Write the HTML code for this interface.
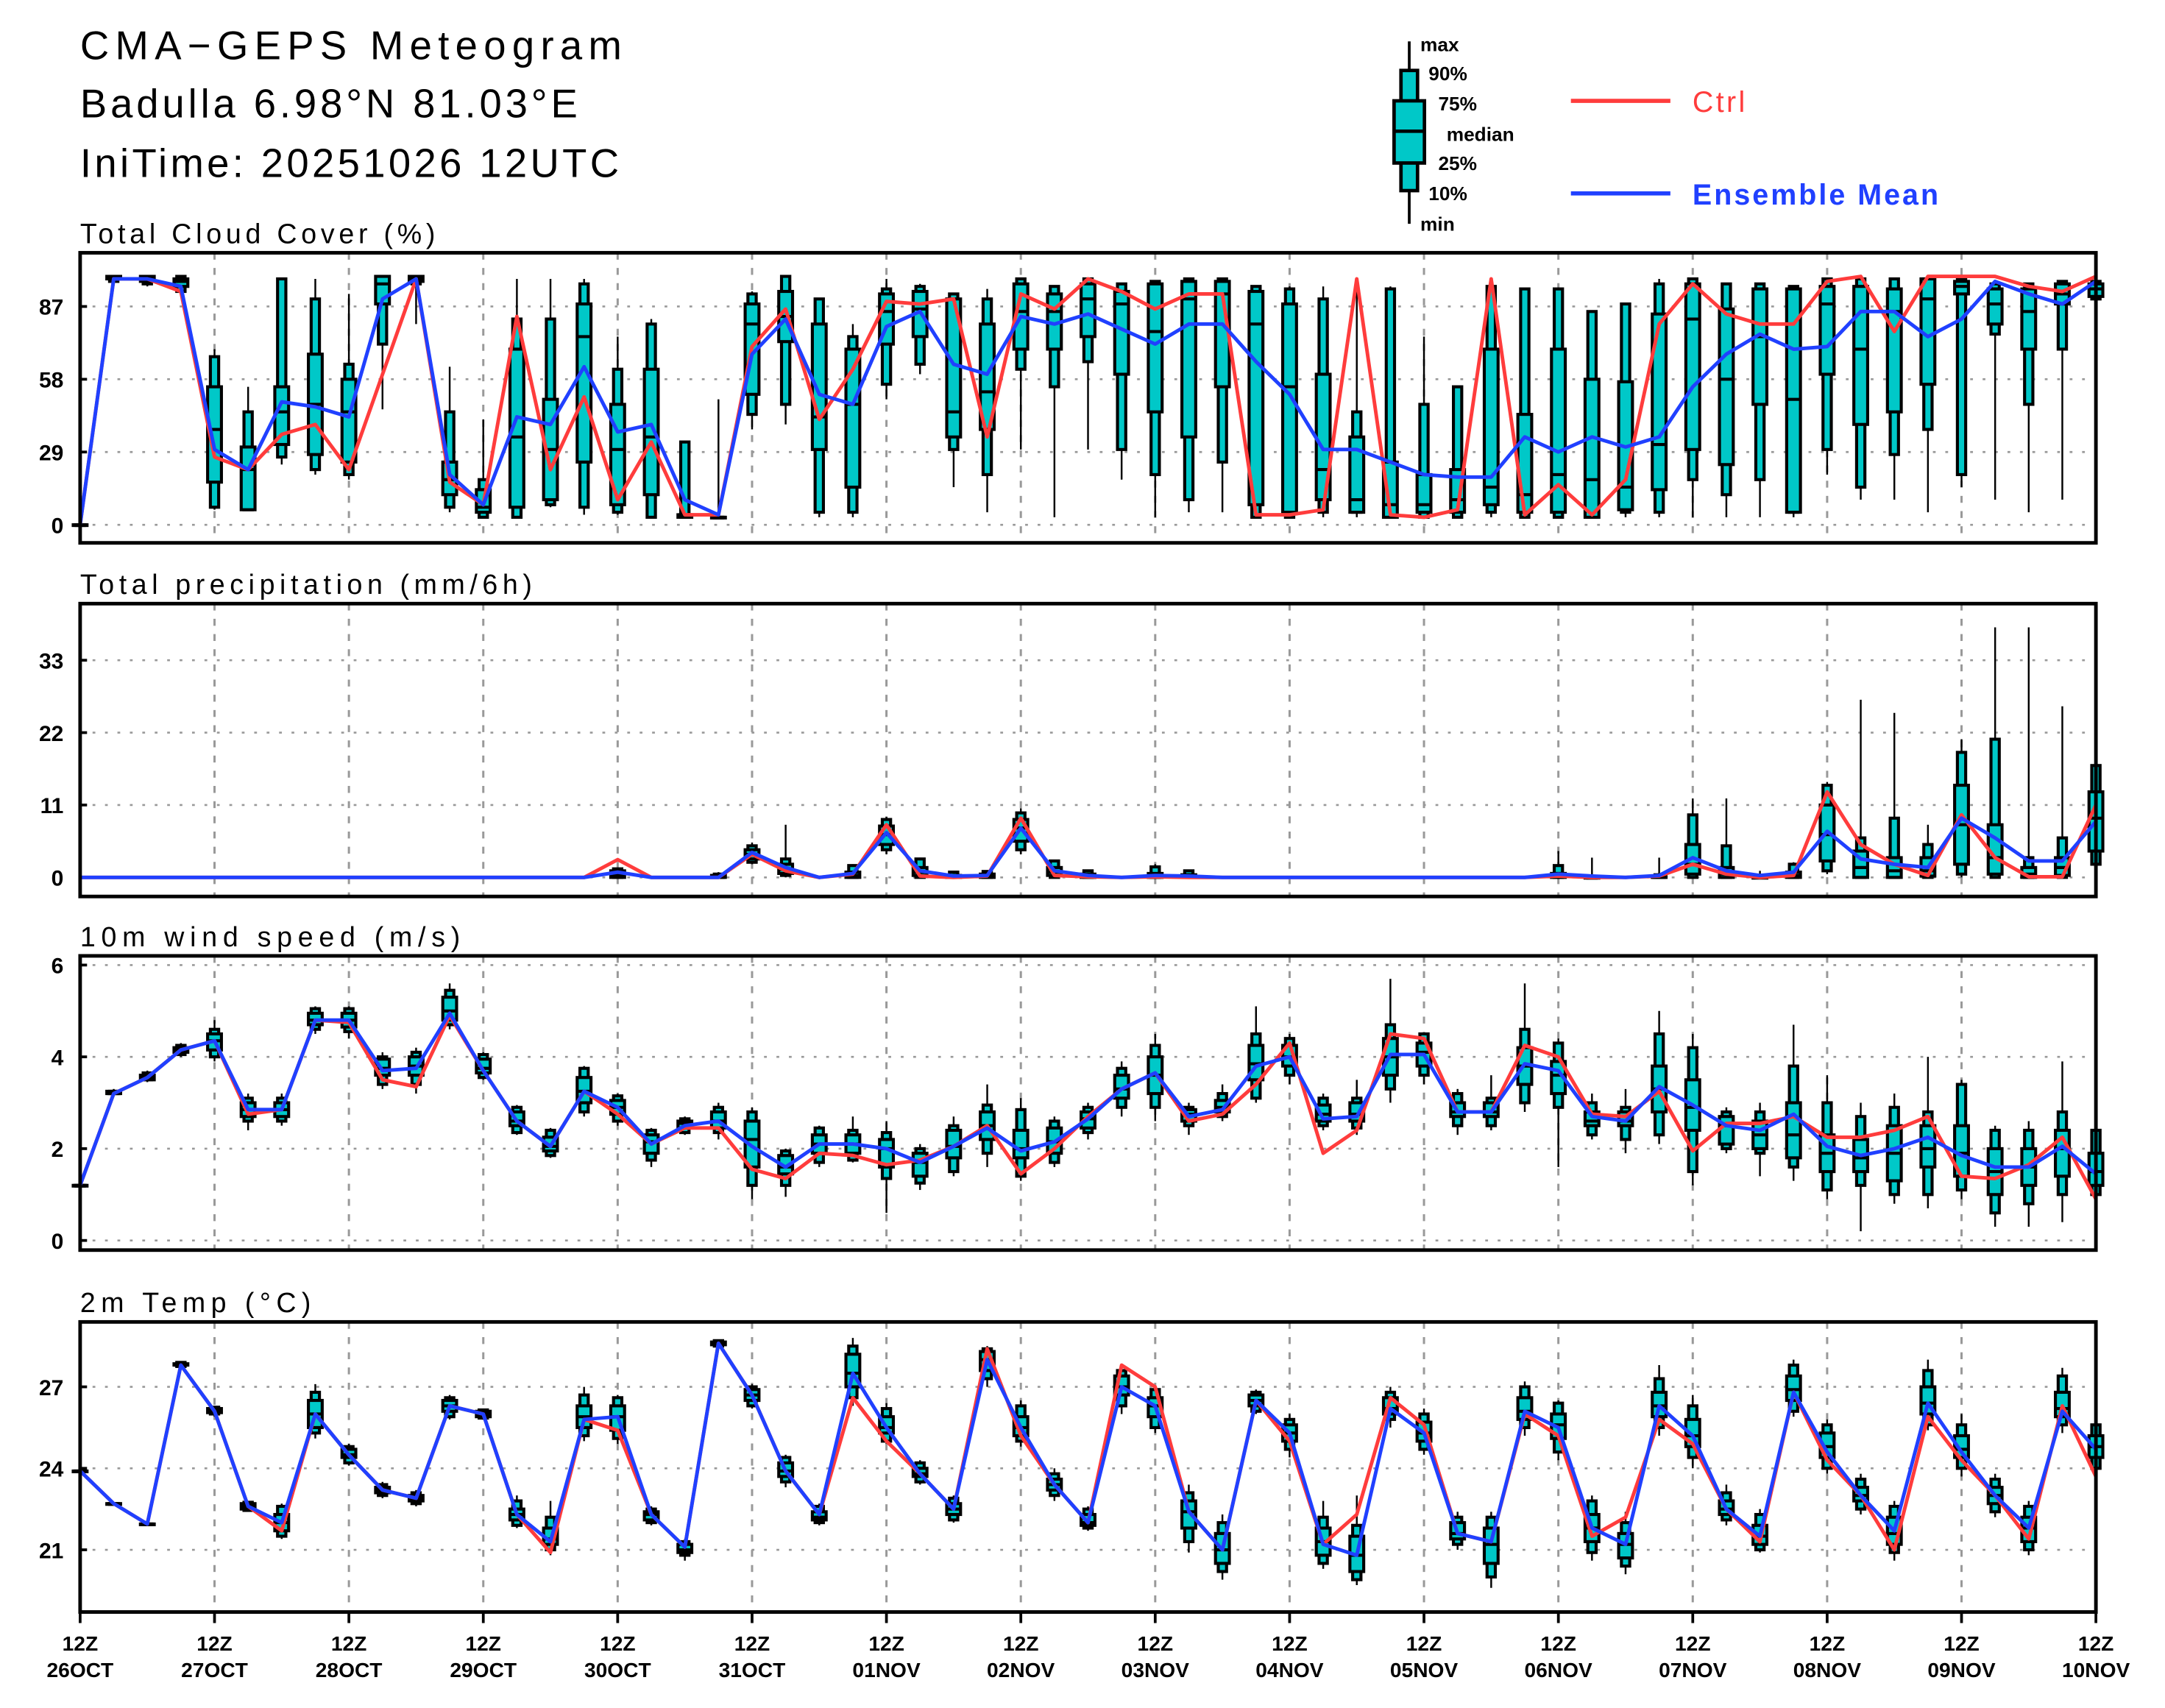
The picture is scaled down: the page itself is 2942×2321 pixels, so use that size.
<!DOCTYPE html>
<html><head><meta charset="utf-8"><style>html,body{margin:0;padding:0;background:#fff}svg{display:block}</style></head>
<body>
<svg id="chart" xmlns="http://www.w3.org/2000/svg" width="2942" height="2321" viewBox="0 0 1567 1236.5" preserveAspectRatio="none" font-family="Liberation Sans, sans-serif">
<rect x="0" y="0" width="1567" height="1237" fill="#fff"/>
<g font-size="29" fill="#000">
<text x="58" y="43" textLength="392" lengthAdjust="spacing">CMA−GEPS  Meteogram</text>
<text x="58" y="85" textLength="360" lengthAdjust="spacing">Badulla  6.98°N  81.03°E</text>
<text x="58" y="128" textLength="390" lengthAdjust="spacing">IniTime:  20251026  12UTC</text>
</g>
<g>
<line x1="1020" y1="30" x2="1020" y2="162" stroke="#000" stroke-width="2"/>
<rect x="1014" y="51" width="12" height="87" fill="#00C8C8" stroke="#000" stroke-width="2.5"/>
<rect x="1009" y="73" width="22" height="45" fill="#00C8C8" stroke="#000" stroke-width="2.5"/>
<line x1="1009" y1="95" x2="1031" y2="95" stroke="#000" stroke-width="2.5"/>
<g font-size="14" font-weight="bold">
<text x="1028" y="37">max</text><text x="1034" y="58">90%</text><text x="1041" y="80">75%</text>
<text x="1047" y="102">median</text><text x="1041" y="123">25%</text><text x="1034" y="145">10%</text><text x="1028" y="167">min</text>
</g>
<line x1="1137" y1="73" x2="1209" y2="73" stroke="#FF3C3C" stroke-width="3"/>
<text x="1225" y="81" font-size="21" fill="#FF3C3C" textLength="38" lengthAdjust="spacing">Ctrl</text>
<line x1="1137" y1="140" x2="1209" y2="140" stroke="#2040FF" stroke-width="3"/>
<text x="1225" y="148" font-size="21" fill="#2040FF" font-weight="bold" textLength="178" lengthAdjust="spacing">Ensemble  Mean</text>
</g>
<g id="panels"></g>
</svg>
<script>
// ---------- DATA ----------
const dayLabels=["26OCT","27OCT","28OCT","29OCT","30OCT","31OCT","01NOV","02NOV","03NOV","04NOV","05NOV","06NOV","07NOV","08NOV","09NOV","10NOV"];
const cloudTicks=[0,29,58,87];
const precipTicks=[0,11,22,33];
const windTicks=[0,2,4,6];
const tempTicks=[21,24,27];

const cloudMean=[0,98,98,95,30,22,49,47,43,90,98,20,8,43,40,63,37,40,10,4,68,82,52,48,79,85,64,60,83,80,84,78,72,80,80,65,52,30,30,25,20,19,19,35,29,35,31,35,55,68,76,70,71,85,85,75,82,97,92,88,97];
const cloudCtrl=[0,98,98,93,27,22,36,40,22,60,98,17,8,83,22,51,10,33,4,4,71,86,42,62,89,88,90,35,92,86,98,93,86,92,92,4,4,6,98,4,3,6,98,4,16,4,18,80,96,84,80,80,97,99,77,99,99,99,95,93,99];
const cloudStats=[[0,0,0,0,0,0,0],[97,97,98,98,99,99,99],[95,96,97,98,99,99,99],[92,93,95,97,98,99,99],[6,7,17,38,55,67,70],[6,6,6,22,31,45,55],[24,27,32,45,55,98,98],[20,22,28,48,68,90,98],[18,20,25,45,58,64,92],[46,72,88,96,99,99,99],[80,96,97,98,99,99,99],[5,7,12,18,25,45,63],[3,3,5,7,14,18,42],[3,3,7,35,70,82,98],[7,8,10,30,50,82,98],[4,7,25,75,88,96,98],[4,5,8,30,48,62,75],[3,3,12,35,62,80,82],[3,3,3,4,4,33,33],[3,3,3,3,3,3,50],[38,44,52,80,88,92,93],[40,48,73,83,93,99,99],[3,5,30,43,80,90,90],[3,5,15,48,70,75,80],[50,56,72,85,92,94,98],[60,64,75,86,93,95,96],[15,30,35,45,90,92,92],[5,20,38,53,80,90,94],[30,62,70,85,96,98,98],[3,55,70,85,92,95,95],[30,65,75,90,96,98,98],[18,30,60,88,93,96,96],[3,20,45,77,96,97,97],[5,10,35,90,97,98,98],[5,25,55,92,97,98,98],[3,3,8,80,93,95,95],[3,3,5,55,88,94,95],[3,5,10,22,60,90,95],[3,5,5,10,35,45,97],[3,3,3,8,25,94,95],[3,3,5,8,20,48,75],[3,3,5,10,22,55,55],[3,5,8,15,70,95,98],[3,3,5,12,44,94,94],[3,3,5,20,70,94,94],[3,3,3,18,58,85,85],[3,5,6,15,57,88,88],[3,5,14,32,84,96,98],[3,18,30,82,96,98,98],[3,12,24,58,86,96,96],[3,18,48,75,94,96,96],[3,5,5,50,94,95,95],[20,30,60,88,95,98,98],[10,15,40,70,95,98,98],[10,28,45,85,94,98,98],[5,38,56,90,98,98,98],[15,20,92,95,97,98,98],[10,76,80,88,94,96,96],[5,48,70,85,94,96,96],[10,70,88,92,96,97,97],[88,90,91,94,96,97,97]];

const precipCtrl=[0,0,0,0,0,0,0,0,0,0,0,0,0,0,0,0,2.7,0,0,0,3.5,1,0,0.5,8,0.2,0,0.2,9,0.3,0.1,0,0.1,0,0,0,0,0,0,0,0,0,0,0,0.2,0,0,0.2,2,0.5,0,0.3,13,5,2,0.3,9.5,3,0.1,0.1,11];
const precipMean=[0,0,0,0,0,0,0,0,0,0,0,0,0,0,0,0,0.8,0,0,0,3.8,1.5,0,0.6,6.8,1.0,0.2,0.3,7.5,1.0,0.3,0,0.3,0.2,0,0,0,0,0,0,0,0,0,0,0.5,0.2,0,0.3,3,1,0.3,0.8,7,2.8,2,1.5,9,6,2.5,2.5,8.5];
const Z=[0,0,0,0,0,0,0];
const precipStats=[Z,Z,Z,Z,Z,Z,Z,Z,Z,Z,Z,Z,Z,Z,Z,Z,[0,0,0,0.3,1.0,1.3,1.5],Z,Z,[0,0,0,0,0.3,0.5,0.8],[2.0,2.3,2.8,3.5,4.2,4.8,5.3],[0,0.3,0.6,1.2,2.0,2.8,8.0],Z,[0,0,0,0.3,0.8,1.8,2.0],[3.5,4.2,5.0,6.5,7.8,8.8,9.2],[0,0,0.3,0.8,1.5,2.8,3.0],[0,0,0,0.1,0.3,0.8,1.0],[0,0,0,0.2,0.5,0.9,1.0],[3.5,4.2,5.5,7.5,8.8,9.8,10.5],[0,0,0.3,0.8,1.5,2.5,2.6],[0,0,0,0.2,0.5,1.0,1.1],Z,[0,0,0,0.2,0.6,1.6,2.0],[0,0,0,0.1,0.4,1.0,1.1],Z,Z,Z,Z,Z,Z,Z,Z,Z,Z,[0,0,0,0.2,0.6,1.8,4.0],[0,0,0,0,0,0,3.0],Z,[0,0,0,0,0.1,0.4,3.0],[0,0,0.5,2,5,9.5,12],[0,0,0,0.5,1.5,4.8,12],[0,0,0,0,0,0.3,1.0],[0,0,0,0.3,0.8,2.0,2.3],[0.5,1.0,2.5,6.5,11,14,14.5],[0,0,0,1.5,4,6,27],[0,0,0,1.0,3,9,25],[0,0,0.2,1,3,5,8],[0,0.5,2,8,14,19,21],[0,0,0.5,3,8,21,38],[0,0,0,0.5,1.5,3,38],[0,0,0.3,1.5,3,6,26],[1,2,4,9,13,17,18]];

const windMean=[1.2,3.2,3.55,4.15,4.35,2.85,2.85,4.8,4.8,3.7,3.75,4.95,3.7,2.6,2.05,3.25,2.9,2.1,2.5,2.6,2.05,1.6,2.1,2.1,2.0,1.7,2.05,2.45,1.95,2.15,2.65,3.3,3.65,2.7,2.85,3.8,4.0,2.65,2.7,4.05,4.05,2.8,2.8,3.85,3.7,2.7,2.6,3.35,2.95,2.5,2.4,2.75,2.05,1.85,2.0,2.25,1.85,1.6,1.6,2.05,1.45];
const windCtrl=[1.2,3.2,3.55,4.15,4.35,2.75,2.85,4.8,4.75,3.5,3.35,4.9,3.7,2.6,2.05,3.25,2.75,2.1,2.45,2.45,1.55,1.35,1.9,1.85,1.65,1.75,2.05,2.5,1.45,2.0,2.7,3.3,3.65,2.6,2.75,3.4,4.3,1.9,2.4,4.5,4.4,2.8,2.8,4.25,4.0,2.75,2.7,3.25,1.95,2.55,2.55,2.7,2.25,2.25,2.4,2.7,1.4,1.35,1.65,2.25,0.9];
const windStats=[[1.2,1.2,1.2,1.2,1.2,1.2,1.2],[3.2,3.2,3.2,3.2,3.25,3.25,3.3],[3.45,3.5,3.5,3.55,3.6,3.65,3.7],[4.0,4.05,4.1,4.15,4.2,4.25,4.3],[3.9,4.0,4.15,4.35,4.5,4.6,4.8],[2.4,2.6,2.7,2.85,3.0,3.1,3.2],[2.5,2.6,2.7,2.85,3.0,3.1,3.2],[4.5,4.6,4.7,4.8,4.95,5.05,5.1],[4.4,4.55,4.65,4.8,4.95,5.05,5.1],[3.3,3.4,3.6,3.75,3.95,4.0,4.1],[3.2,3.4,3.6,3.8,4.0,4.1,4.2],[4.6,4.7,4.8,5.0,5.3,5.45,5.6],[3.5,3.55,3.65,3.75,3.95,4.05,4.1],[2.3,2.35,2.5,2.6,2.8,2.9,2.95],[1.8,1.85,1.95,2.05,2.25,2.4,2.45],[2.7,2.8,3.0,3.25,3.55,3.75,3.8],[2.5,2.6,2.75,2.9,3.05,3.15,3.2],[1.6,1.75,1.9,2.15,2.3,2.4,2.45],[2.3,2.35,2.45,2.55,2.6,2.65,2.7],[2.2,2.35,2.45,2.6,2.8,2.9,3.0],[0.9,1.2,1.6,2.2,2.6,2.8,2.9],[0.95,1.2,1.45,1.6,1.85,1.95,2.0],[1.6,1.7,1.9,2.1,2.3,2.45,2.5],[1.7,1.75,1.9,2.1,2.3,2.4,2.7],[0.6,1.35,1.6,2.0,2.2,2.35,2.6],[1.1,1.25,1.4,1.7,1.9,2.0,2.1],[1.4,1.5,1.8,2.05,2.4,2.5,2.7],[1.6,1.9,2.2,2.5,2.8,2.95,3.4],[1.3,1.4,1.8,2.0,2.4,2.85,3.1],[1.6,1.7,1.9,2.15,2.45,2.6,2.7],[2.2,2.35,2.45,2.65,2.8,2.9,3.0],[2.7,2.9,3.1,3.3,3.6,3.75,3.9],[2.6,2.9,3.2,3.6,4.0,4.25,4.5],[2.3,2.5,2.6,2.75,2.85,2.9,3.0],[2.6,2.7,2.8,2.9,3.05,3.2,3.4],[3.0,3.1,3.5,3.85,4.25,4.5,5.1],[3.4,3.6,3.8,4.0,4.25,4.4,4.5],[2.4,2.5,2.6,2.75,2.95,3.1,3.2],[2.3,2.45,2.6,2.75,3.0,3.1,3.5],[3.0,3.3,3.6,4.0,4.4,4.7,5.7],[3.4,3.6,3.8,4.1,4.3,4.5,4.5],[2.3,2.5,2.7,2.8,3.0,3.2,3.3],[2.4,2.5,2.7,2.8,3.0,3.1,3.6],[2.8,3.0,3.4,3.8,4.2,4.6,5.6],[1.6,2.9,3.2,3.6,3.9,4.3,4.4],[2.2,2.3,2.5,2.6,2.8,3.0,3.2],[1.9,2.2,2.5,2.6,2.8,2.9,3.3],[2.1,2.3,2.8,3.3,3.8,4.5,5.0],[1.2,1.5,2.4,2.9,3.5,4.2,4.5],[1.9,2.0,2.1,2.5,2.7,2.8,2.9],[1.4,1.9,2.0,2.3,2.6,2.8,3.0],[1.3,1.6,1.8,2.3,3.0,3.8,4.7],[0.9,1.1,1.5,1.9,2.3,3.0,3.6],[0.2,1.2,1.5,1.8,2.2,2.7,3.0],[0.8,1.0,1.3,1.9,2.5,2.9,3.2],[0.7,1.0,1.6,2.0,2.5,2.8,4.0],[0.9,1.1,1.4,1.9,2.5,3.4,3.5],[0.3,0.6,1.0,1.5,2.0,2.4,2.5],[0.3,0.8,1.2,1.6,2.0,2.4,2.6],[0.4,1.0,1.4,2.0,2.4,2.8,3.9],[0.7,1.0,1.2,1.5,1.9,2.4,2.7]];

const tempMean=[23.9,22.7,21.95,27.8,26.1,22.6,22.0,26.0,24.5,23.2,22.9,26.3,26.0,22.3,21.3,25.8,25.9,22.3,21.1,28.6,26.7,23.9,22.3,27.5,25.5,23.8,22.5,28.0,25.5,23.4,22.0,27.0,26.3,22.4,21.0,26.5,25.3,21.2,20.8,26.2,25.3,21.6,21.3,26.1,25.5,21.8,21.2,26.3,25.2,22.5,21.5,26.8,24.6,23.0,21.7,26.4,24.6,23.0,21.8,26.1,24.7];
const tempCtrl=[23.9,22.7,21.95,27.8,26.1,22.6,21.7,26.0,24.5,23.2,22.9,26.3,26.0,22.3,20.9,25.8,25.4,22.3,21.1,28.6,26.7,23.9,22.3,26.6,25.0,23.8,22.5,28.4,25.2,23.4,22.0,27.8,27.0,22.4,21.0,26.5,25.0,21.2,22.3,26.6,25.6,21.6,21.3,26.0,25.2,21.5,22.2,25.8,24.9,22.5,21.3,26.8,24.3,23.0,21.0,25.9,24.3,23.0,21.4,26.3,23.7];
const tempStats=[[23.9,23.9,23.9,23.9,23.9,23.9,23.9],[22.7,22.7,22.7,22.7,22.7,22.7,22.7],[21.95,21.95,21.95,21.95,21.95,21.95,21.95],[27.7,27.75,27.8,27.8,27.85,27.9,27.95],[25.9,26.0,26.05,26.1,26.2,26.25,26.3],[22.4,22.45,22.5,22.6,22.7,22.75,22.8],[21.4,21.5,21.7,22.0,22.3,22.6,22.7],[25.1,25.3,25.5,26.0,26.5,26.8,27.1],[24.1,24.2,24.4,24.5,24.7,24.8,24.9],[22.9,23.0,23.1,23.2,23.3,23.4,23.5],[22.6,22.7,22.8,22.9,23.0,23.1,23.2],[25.8,25.9,26.1,26.3,26.5,26.6,26.7],[25.8,25.85,25.9,26.0,26.1,26.15,26.2],[21.8,21.9,22.1,22.3,22.5,22.8,23.0],[20.8,21.0,21.2,21.4,21.8,22.2,22.8],[25.0,25.2,25.5,25.9,26.3,26.7,27.0],[24.9,25.1,25.4,25.9,26.3,26.6,26.7],[21.9,22.0,22.1,22.3,22.4,22.5,22.6],[20.6,20.8,20.9,21.0,21.2,21.3,21.4],[28.4,28.5,28.55,28.6,28.65,28.7,28.75],[26.2,26.3,26.5,26.7,26.9,27.0,27.1],[23.3,23.5,23.7,23.9,24.2,24.4,24.5],[21.9,22.0,22.1,22.2,22.4,22.6,22.7],[26.3,26.6,27.0,27.5,28.2,28.5,28.8],[24.9,25.0,25.3,25.5,25.9,26.2,26.4],[23.4,23.5,23.7,23.8,24.0,24.2,24.3],[22.0,22.1,22.3,22.5,22.7,22.9,23.0],[27.0,27.3,27.6,28.0,28.3,28.4,28.5],[24.8,25.0,25.2,25.5,25.9,26.3,26.5],[22.8,23.0,23.2,23.4,23.6,23.8,24.0],[21.7,21.8,21.9,22.0,22.3,22.5,22.6],[26.0,26.3,26.7,27.0,27.4,27.6,27.8],[25.3,25.5,25.9,26.3,26.6,26.9,27.0],[20.9,21.3,21.8,22.4,22.8,23.1,23.4],[19.9,20.2,20.5,21.0,21.6,22.0,22.3],[26.0,26.1,26.3,26.5,26.7,26.8,26.9],[24.4,24.7,25.0,25.3,25.6,25.8,26.0],[20.3,20.5,20.8,21.3,21.8,22.2,22.8],[19.7,19.9,20.2,20.8,21.5,21.9,23.0],[25.5,25.8,26.0,26.2,26.6,26.8,27.0],[24.5,24.7,25.0,25.3,25.7,26.0,26.2],[21.0,21.2,21.4,21.6,22.0,22.2,22.4],[19.6,20.0,20.5,21.2,21.8,22.2,22.4],[25.2,25.5,25.8,26.1,26.6,27.0,27.2],[24.3,24.6,25.1,25.6,26.0,26.4,26.5],[20.6,20.9,21.3,21.8,22.3,22.8,23.0],[20.1,20.4,20.7,21.2,21.6,22.0,22.4],[25.2,25.5,25.9,26.3,26.8,27.3,27.8],[24.0,24.4,24.8,25.2,25.8,26.3,26.7],[21.9,22.1,22.3,22.5,22.8,23.1,23.4],[20.9,21.0,21.2,21.5,21.9,22.3,22.5],[25.9,26.1,26.5,26.9,27.4,27.8,28.0],[23.8,24.0,24.4,24.8,25.3,25.6,25.8],[22.3,22.5,22.8,23.0,23.3,23.6,23.8],[20.6,20.9,21.2,21.6,22.2,22.6,22.8],[25.4,25.6,26.0,26.4,27.0,27.6,28.0],[23.7,24.0,24.4,24.7,25.2,25.6,26.0],[22.2,22.4,22.7,23.0,23.3,23.6,23.8],[20.8,21.0,21.3,21.8,22.2,22.6,22.8],[25.3,25.6,25.9,26.2,26.8,27.4,27.7],[23.7,24.0,24.4,24.8,25.2,25.6,26.0]];

// ---------- DRAW ----------
const NS="http://www.w3.org/2000/svg";
const root=document.getElementById("panels");
const X0=58,X1=1517,NSTEP=60;
function xs(i){return X0+(X1-X0)*i/NSTEP;}
function mk(tag,parent){const e=document.createElementNS(NS,tag);parent.appendChild(e);return e;}
function setA(e,o){for(const k in o)e.setAttribute(k,o[k]);}

const panels=[
 {key:"cloud",title:"Total Cloud Cover (%)",tw:257,top:183,bot:393,vmin:-7.2,vmax:108.4,ticks:cloudTicks,stats:cloudStats,ctrl:cloudCtrl,mean:cloudMean,skipZero:false},
 {key:"precip",title:"Total precipitation (mm/6h)",tw:327,top:437,bot:649,vmin:-2.9,vmax:41.6,ticks:precipTicks,stats:precipStats,ctrl:precipCtrl,mean:precipMean,skipZero:true},
 {key:"wind",title:"10m wind speed (m/s)",tw:275,top:692,bot:905,vmin:-0.21,vmax:6.2,ticks:windTicks,stats:windStats,ctrl:windCtrl,mean:windMean,skipZero:false},
 {key:"temp",title:"2m Temp (°C)",tw:167,top:957,bot:1167,vmin:18.71,vmax:29.39,ticks:tempTicks,stats:tempStats,ctrl:tempCtrl,mean:tempMean,skipZero:false}
];

panels.forEach(function(p){
 const g=mk("g",root);
 
 
 const ys=function(v){return p.bot-(v-p.vmin)/(p.vmax-p.vmin)*(p.bot-p.top);};
 const t=mk("text",g);
 
 
 setA(t,{x:58,y:p.top-7,"font-size":20,textLength:p.tw,lengthAdjust:"spacing"});t.textContent=p.title;
 for(let d=1;d<dayLabels.length-1;d++){
  const l=mk("line",g);
  
  
  setA(l,{x1:xs(d*4),x2:xs(d*4),y1:p.top,y2:p.bot,stroke:"#999","stroke-width":1.6,"stroke-dasharray":"5,6"});
 }
 p.ticks.forEach(function(v){
  const y=ys(v);
  const l=mk("line",g);
  
  
  setA(l,{x1:X0,x2:X1,y1:y,y2:y,stroke:"#999","stroke-width":1.4,"stroke-dasharray":"2,7"});
  const tk=mk("line",g);
  
  
  setA(tk,{x1:X0,x2:X0+5,y1:y,y2:y,stroke:"#000","stroke-width":2});
  const tl=mk("text",g);
  
  
  setA(tl,{x:46,y:y+6,"font-size":16,"font-weight":"bold","text-anchor":"end"});tl.textContent=v;
 });
 p.stats.forEach(function(s,i){
  if(p.skipZero && s[6]===0) return;
  const x=xs(i);
  const bg=mk("g",g);
  
  
  const w=mk("line",bg);setA(w,{x1:x,x2:x,y1:ys(s[0]),y2:ys(s[6]),stroke:"#000","stroke-width":1.3});
  const n=mk("rect",bg);setA(n,{x:x-3,y:ys(s[5]),width:6,height:Math.max(0.5,ys(s[1])-ys(s[5])),fill:"#00C8C8",stroke:"#000","stroke-width":2.2});
  const b=mk("rect",bg);setA(b,{x:x-5,y:ys(s[4]),width:10,height:Math.max(0.5,ys(s[2])-ys(s[4])),fill:"#00C8C8",stroke:"#000","stroke-width":2.2});
  const m=mk("line",bg);setA(m,{x1:x-5,x2:x+5,y1:ys(s[3]),y2:ys(s[3]),stroke:"#000","stroke-width":2.2});
 });
 const line=function(arr,col,name){
  const pl=mk("polyline",g);
  
  
  setA(pl,{points:arr.map(function(v,i){return xs(i).toFixed(1)+","+ys(v).toFixed(1);}).join(" "),fill:"none",stroke:col,"stroke-width":2.6,"stroke-linejoin":"round"});
 };
 line(p.ctrl,"#FF3C3C",p.key+'-ctrl-line');
 line(p.mean,"#2040FF",p.key+'-mean-line');
 const fr=mk("rect",g);
 
 
 setA(fr,{x:X0,y:p.top,width:X1-X0,height:p.bot-p.top,fill:"none",stroke:"#000","stroke-width":2.6});
});
const xg=mk("g",root);


dayLabels.forEach(function(d,k){
 const x=xs(k*4);
 const tk=mk("line",xg);
 
 
 setA(tk,{x1:x,x2:x,y1:1167,y2:1175,stroke:"#000","stroke-width":2});
 const a=mk("text",xg);
 
 
 setA(a,{x:x,y:1195,"font-size":15,"font-weight":"bold","text-anchor":"middle"});a.textContent="12Z";
 const b=mk("text",xg);
 
 
 setA(b,{x:x,y:1214,"font-size":15,"font-weight":"bold","text-anchor":"middle"});b.textContent=d;
});
</script>
</body></html>
